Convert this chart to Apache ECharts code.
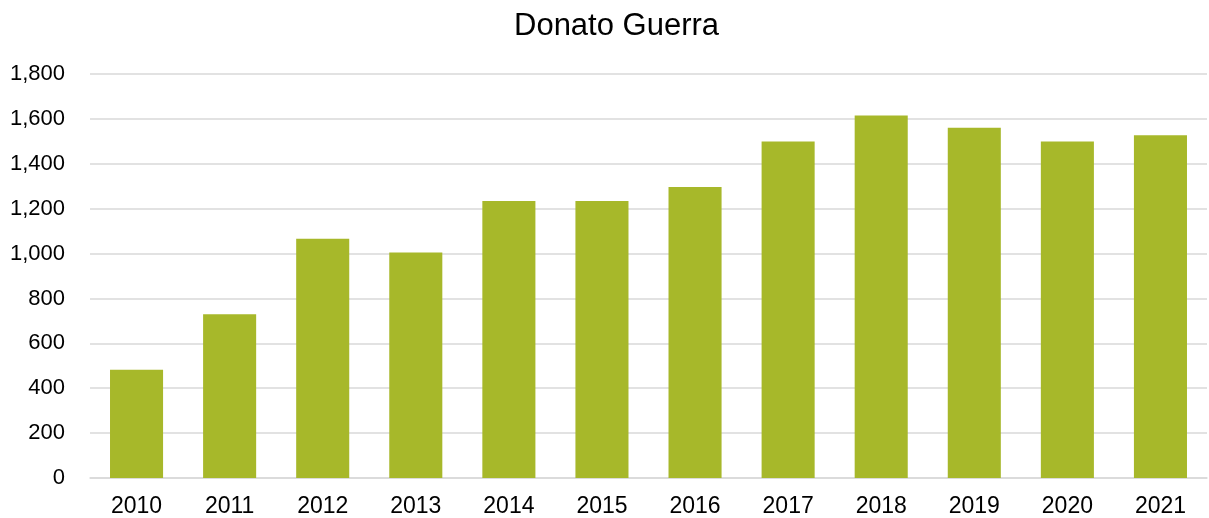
<!DOCTYPE html>
<html><head><meta charset="utf-8">
<script src="https://cdn.jsdelivr.net/npm/echarts@6/dist/echarts.min.js"></script>
<style>html,body{margin:0;padding:0;background:#fff}#c{width:1209px;height:518px}</style>
</head><body><div id="c"></div>
<script>
const categories = ['2010','2011','2012','2013','2014','2015','2016','2017','2018','2019','2020','2021'];
const values = [482, 730, 1066, 1005, 1234, 1234, 1296, 1499, 1615, 1560, 1499, 1527];
const title = 'Donato Guerra';
const chart = echarts.init(document.getElementById('c'));
chart.setOption({
  animation: false,
  title: {text: title, left: 509, top: 6, textStyle: {fontFamily: 'Liberation Sans', fontSize: 31, fontWeight: 'normal', color: '#000'}},
  grid: {left: 90, right: 2, top: 74, bottom: 40, containLabel: false},
  xAxis: {type: 'category', data: categories,
    axisLine: {lineStyle: {color: '#d9d9d9', width: 1.5}}, axisTick: {show: false},
    axisLabel: {fontFamily: 'Liberation Sans', fontSize: 23, color: '#000', margin: 17}},
  yAxis: {type: 'value', min: 0, max: 1800, interval: 200,
    axisLine: {show: false}, axisTick: {show: false},
    splitLine: {lineStyle: {color: '#d9d9d9', width: 1.5}},
    axisLabel: {fontFamily: 'Liberation Sans', fontSize: 22, color: '#000', margin: 25,
      formatter: v => v.toLocaleString('en-US')}},
  series: [{type: 'bar', data: values, barCategoryGap: '43%',
    itemStyle: {color: '#A7B82A'}}]
});
</script></body></html>
